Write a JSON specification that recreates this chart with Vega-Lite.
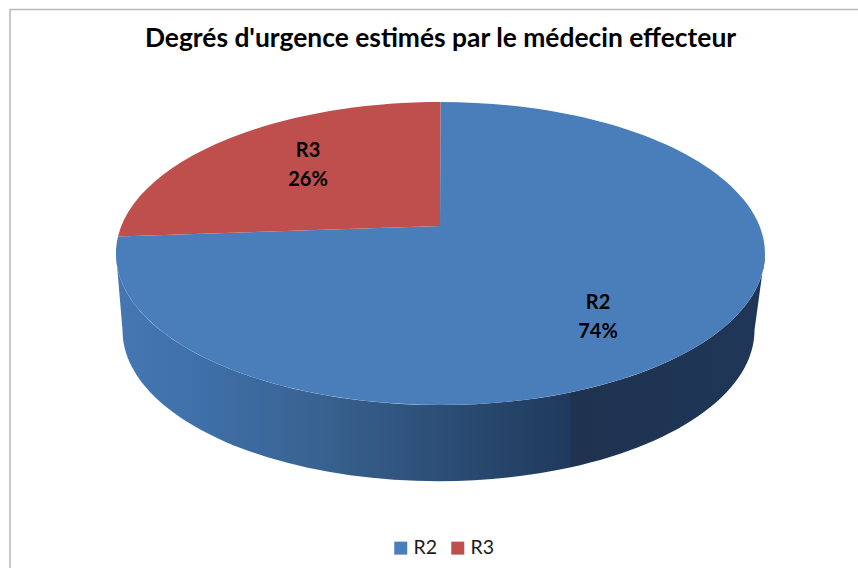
{
  "$schema": "https://vega.github.io/schema/vega-lite/v6.json",
  "width": 858,
  "height": 568,
  "padding": 0,
  "autosize": {"type": "none"},
  "background": "#ffffff",
  "view": {"stroke": null},
  "title": {"text": "Degrés d'urgence estimés par le médecin effecteur", "font": "Lato", "fontWeight": "bold", "fontSize": 26.4, "color": "#000000", "anchor": "middle", "dx": 11.5, "offset": -52},
  "data": {"values": [
    {"categorie": "R2", "part": 74, "etiquette": "R2\n74%"},
    {"categorie": "R3", "part": 26, "etiquette": "R3\n26%"}
  ]},
  "layer": [
    {
      "transform": [{"filter": "datum.categorie === 'R2'"}],
      "mark": {"type": "point", "filled": false, "opacity": 1, "size": 4, "strokeWidth": 1.5, "stroke": "#b8b8b8", "fill": null, "shape": "M-419,290 L-419,-274.5 L435,-274.5"}
    },
    {
      "transform": [{"filter": "datum.categorie === 'R2'"}],
      "mark": {"type": "point", "filled": true, "opacity": 1, "size": 4, "strokeWidth": 0, "shape": "M-313,-30.5 A324.5,151.5 0 0 0 141,108.5 L141,183.5 A316,151 0 0 1 -306.5,46 Z",
        "fill": {"gradient": "linear", "x1": 0, "y1": 0, "x2": 1, "y2": 0, "stops": [
          {"offset": 0, "color": "#4677b2"},
          {"offset": 0.2, "color": "#3f6fa8"},
          {"offset": 0.45, "color": "#386290"},
          {"offset": 0.7, "color": "#2d4f78"},
          {"offset": 1, "color": "#1f3a5c"}
        ]}
      }
    },
    {
      "transform": [{"filter": "datum.categorie === 'R2'"}],
      "mark": {"type": "point", "filled": true, "opacity": 1, "size": 4, "strokeWidth": 0, "shape": "M141,108.5 A324.5,151.5 0 0 0 336,-30.5 L325.5,46 A316,151 0 0 1 141,183.5 Z",
        "fill": {"gradient": "linear", "x1": 0, "y1": 0, "x2": 1, "y2": 0, "stops": [
          {"offset": 0, "color": "#1f3350"},
          {"offset": 1, "color": "#1f3658"}
        ]}
      }
    },
    {
      "transform": [{"filter": "datum.categorie === 'R2'"}],
      "mark": {"type": "point", "filled": true, "opacity": 1, "size": 4, "strokeWidth": 0, "shape": "M11,-58 L11.5,-182 A324.5,151.5 0 1 1 -311,-47.5 Z"},
      "encoding": {
        "color": {"field": "categorie", "type": "nominal", "title": null,
          "scale": {"domain": ["R2", "R3"], "range": ["#4a7ebb", "#be4f4c"]},
          "legend": {"orient": "none", "legendX": 391, "legendY": 538, "direction": "horizontal", "columns": 2, "symbolType": "square", "symbolSize": 169, "symbolStrokeWidth": 0, "labelFont": "Lato", "labelFontSize": 19.5, "labelColor": "#1a1a1a", "columnPadding": 10, "labelOffset": 3, "title": null}
        }
      }
    },
    {
      "transform": [{"filter": "datum.categorie === 'R3'"}],
      "mark": {"type": "point", "filled": true, "opacity": 1, "size": 4, "strokeWidth": 0, "shape": "M11,-58 L-311,-47.5 A324.5,151.5 0 0 1 11.5,-182 Z"},
      "encoding": {
        "color": {"field": "categorie", "type": "nominal", "title": null}
      }
    },
    {
      "transform": [{"filter": "datum.categorie === 'R2'"}],
      "mark": {"type": "text", "font": "Lato", "fontWeight": "bold", "fontSize": 20, "color": "#000000", "lineBreak": "\n", "lineHeight": 29, "dx": 169, "dy": 19, "align": "center"},
      "encoding": {"text": {"field": "etiquette", "type": "nominal"}}
    },
    {
      "transform": [{"filter": "datum.categorie === 'R3'"}],
      "mark": {"type": "text", "font": "Lato", "fontWeight": "bold", "fontSize": 20, "color": "#000000", "lineBreak": "\n", "lineHeight": 29, "dx": -121, "dy": -133, "align": "center"},
      "encoding": {"text": {"field": "etiquette", "type": "nominal"}}
    }
  ]
}
